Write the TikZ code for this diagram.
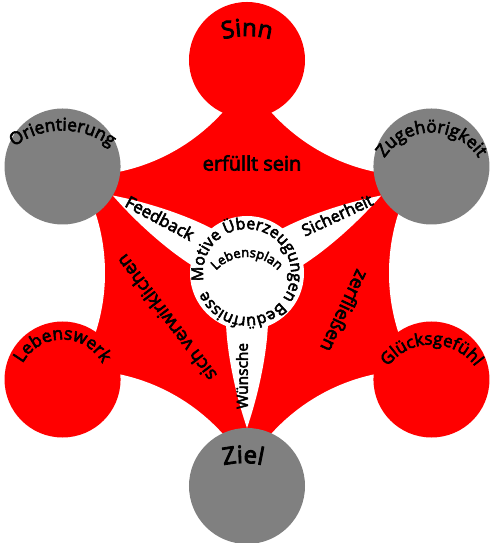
\documentclass[tikz,border=0pt]{standalone}
\usepackage{fontspec}
\setmainfont{Open Sans}[FakeBold=3.5]
\usetikzlibrary{decorations.text}
\definecolor{cred}{RGB}{255,0,0}
\definecolor{cgray}{RGB}{128,128,128}
\newcommand{\myfs}[1]{\fontsize{#1}{#1}\selectfont}
\newcommand{\arctext}[6]{%
  \path[decorate, decoration={text along path, text align=center, text={#6}}]
    ([shift={(#4:#3)}]#1,#2) arc[start angle=#4, end angle=#5, radius=#3];}
\tikzset{
  nodecirc/.style={circle, minimum size=116bp, inner sep=0pt, draw=none},
  redcirc/.style={nodecirc, fill=cred},
  graycirc/.style={nodecirc, fill=cgray},
  lbl/.style={inner sep=0pt, text=black},
}
\begin{document}
\begin{tikzpicture}[x=1bp,y=1bp]
\useasboundingbox (-247,-270) rectangle (253,273);
% red concave hexagon
\fill[cred] (90:213) -- (150:213) -- (210:213) -- (270:213) -- (330:213) -- (30:213) -- cycle;
\foreach \a in {0,60,...,300} \fill[white] (\a:335) circle[radius=193];
% white centre with three lobes
\fill[white] (0,0) circle[radius=57];
\foreach \a in {150,30,-90}
  \fill[white, rotate=\a] (155,0) .. controls (120,12) and (80,20) .. (50,21)
     -- (50,-21) .. controls (80,-20) and (120,-12) .. cycle;
% outer circles
\node[redcirc]  (sinn)   at (90:213)  {};
\node[graycirc] (zug)    at (30:213)  {};
\node[redcirc]  (glueck) at (-30:213) {};
\node[graycirc] (ziel)   at (-90:213) {};
\node[redcirc]  (leben)  at (210:213) {};
\node[graycirc] (orient) at (150:213) {};
% arc labels in circles
\arctext{0}{153}{84}{130}{50}{|\myfs{24}|Sinn}
\arctext{-4}{-275}{85}{120}{60}{|\myfs{24}|Ziel}
\arctext{-184.5}{62.5}{80}{140}{40}{|\myfs{17.5}|Orientierung}
\arctext{184.5}{84.5}{56}{170}{10}{|\myfs{17.5}|Zugehörigkeit}
\arctext{184.5}{-125.5}{54}{170}{10}{|\myfs{17}|Glücksgefühl}
\arctext{-184.5}{-111.5}{45}{175}{5}{|\myfs{17.5}|Lebenswerk}
% ring texts
\arctext{0}{0}{44}{197}{-163}{|\myfs{16}|Motive Überzeugungen Bedürfnisse}
\arctext{0}{-26}{42}{140}{40}{|\myfs{13}|Lebensplan}
% straight labels
\node[lbl, font=\myfs{20}] (erf) at (5,110) {erfüllt sein};
\node[lbl, font=\myfs{19}, rotate=-115] (zerf) at (98,-38) {zerfließen};
\node[lbl, font=\myfs{18.5}, rotate=127] (verw) at (-81,-45) {sich verwirklichen};
\node[lbl, font=\myfs{17}, rotate=-28] (feed) at (-87,55) {Feedback};
\node[lbl, font=\myfs{16.5}, rotate=25] (sich) at (90,58) {Sicherheit};
\node[lbl, font=\myfs{15.5}, rotate=90] (wuen) at (-5,-103) {Wünsche};
\end{tikzpicture}
\end{document}
